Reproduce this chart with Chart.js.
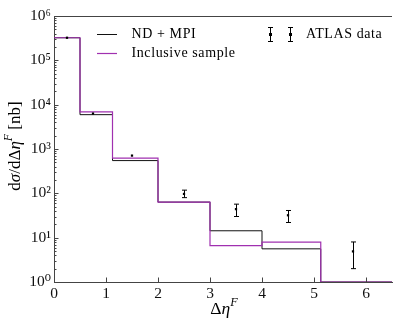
<!DOCTYPE html>
<html>
<head>
<meta charset="utf-8">
<script src="https://cdn.jsdelivr.net/npm/chart.js@4.4.1/dist/chart.umd.min.js"></script>
<style>
  html, body { margin: 0; padding: 0; background: #fff; }
  #wrap { width: 396px; height: 321px; }
</style>
</head>
<body>
<div id="wrap"><canvas id="chart" width="396" height="321"></canvas></div>
<script>
// histogram bins (left edges + last right edge) and bin contents
const binEdges = [0, 0.5, 1.125, 2, 3, 4, 5.13, 6.5];
const ndMpi = [3.23e5, 5950, 548, 63.4, 14.3, 5.6, 1];
const inclusive = [3.23e5, 6850, 621, 63.4, 6.6, 7.95, 1];

// ATLAS points with error bars
const atlasX = [0.25, 0.75, 1.5, 2.5, 3.5, 4.5, 5.75];
const atlasY = [3.23e5, 6300, 710, 97, 44, 32, 4.9];
const atlasLow = [3.2e5, 6200, 690, 80, 30, 22, 2.0];
const atlasHigh = [3.26e5, 6400, 730, 118, 57, 41, 8.0];

const xTicks = [0, 1, 2, 3, 4, 5, 6];
const yTicks = [1, 10, 100, 1e3, 1e4, 1e5, 1e6];
const yTickLabels = ['10⁰', '10¹', '10²', '10³', '10⁴', '10⁵', '10⁶'];

const SERIF = '"Liberation Serif", "DejaVu Serif", serif';
const AXIS = '#444';

function steps(values) {
    return binEdges.map((x, i) => ({ x: x, y: values[Math.min(i, values.length - 1)] }));
}

// draws text pieces in a row centred on cx; pieces: {t, italic, sup}
function mathText(ctx, pieces, size, cx, cy) {
    const font = p => (p.italic ? 'italic ' : '') + (p.sup ? size * 0.7 : size) + 'px ' + SERIF;
    let total = 0;
    pieces.forEach(p => { ctx.font = font(p); p.w = ctx.measureText(p.t).width; total += p.w; });
    let x = cx - total / 2;
    ctx.textBaseline = 'alphabetic';
    ctx.textAlign = 'left';
    pieces.forEach(p => {
        ctx.font = font(p);
        ctx.fillText(p.t, x, cy + size * 0.33 - (p.sup ? size * 0.42 : 0));
        x += p.w;
    });
}

const decor = {
    id: 'decor',
    afterDatasetsDraw(chart) {
        const { ctx, chartArea: a, scales: { x, y } } = chart;
        ctx.save();

        // inward ticks + top spine
        ctx.strokeStyle = AXIS;
        ctx.lineWidth = 1;
        ctx.beginPath();
        xTicks.forEach(v => {
            const px = Math.round(x.getPixelForValue(v)) + 0.5;
            ctx.moveTo(px, a.bottom);
            ctx.lineTo(px, a.bottom - 4.5);
        });
        for (let k = 0; k < 6; k++) {
            for (let m = 1; m < 10; m++) {
                const py = Math.round(y.getPixelForValue(m * Math.pow(10, k))) + 0.5;
                ctx.moveTo(a.left, py);
                ctx.lineTo(a.left + (m === 1 ? 4.5 : 2.5), py);
            }
        }
        ctx.moveTo(a.left, Math.round(a.top) + 0.5);
        ctx.lineTo(a.right, Math.round(a.top) + 0.5);
        ctx.stroke();

        // error bars (caps only where the bar is visible beyond the marker)
        ctx.strokeStyle = '#000';
        ctx.beginPath();
        chart.data.datasets[2].data.forEach(p => {
            const px = Math.round(x.getPixelForValue(p.x)) + 0.5;
            const y0 = y.getPixelForValue(p.yMin), y1 = y.getPixelForValue(p.yMax);
            if (y0 - y1 < 4) return;
            ctx.moveTo(px, y0); ctx.lineTo(px, y1);
            ctx.moveTo(px - 2.5, y0); ctx.lineTo(px + 2.5, y0);
            ctx.moveTo(px - 2.5, y1); ctx.lineTo(px + 2.5, y1);
        });
        ctx.stroke();

        // legend
        const ds = chart.data.datasets;
        ctx.font = '14px ' + SERIF;
        ctx.letterSpacing = '0.6px';
        ctx.fillStyle = '#000';
        ctx.textBaseline = 'middle';
        [[ds[0], 34.5], [ds[1], 53.5]].forEach(([d, ly]) => {
            ctx.strokeStyle = d.borderColor;
            ctx.lineWidth = d.borderWidth;
            ctx.beginPath();
            ctx.moveTo(97, ly); ctx.lineTo(117, ly);
            ctx.stroke();
            ctx.fillText(d.label, 131.5, ly);
        });
        ctx.strokeStyle = '#000';
        ctx.lineWidth = 1;
        [270.5, 290.5].forEach(mx => {
            ctx.beginPath();
            ctx.moveTo(mx, 27.5); ctx.lineTo(mx, 41.5);
            ctx.moveTo(mx - 2.5, 27.5); ctx.lineTo(mx + 2.5, 27.5);
            ctx.moveTo(mx - 2.5, 41.5); ctx.lineTo(mx + 2.5, 41.5);
            ctx.stroke();
            ctx.fillStyle = '#000';
            ctx.fillRect(mx - 1.5, 33, 3, 3);
        });
        ctx.fillText(ds[2].label, 306, 34.5);
        ctx.letterSpacing = '0px';

        // axis titles
        ctx.fillStyle = '#000';
        mathText(ctx, [{ t: 'Δ' }, { t: 'η', italic: true }, { t: 'F', italic: true, sup: true }],
            17.5, (a.left + a.right) / 2 + 1, 308);
        ctx.save();
        ctx.translate(14, (a.top + a.bottom) / 2 - 3);
        ctx.rotate(-Math.PI / 2);
        mathText(ctx, [{ t: 'd' }, { t: 'σ', italic: true }, { t: '/d' }, { t: 'Δ' }, { t: 'η', italic: true },
            { t: 'F', italic: true, sup: true }, { t: ' [nb]' }], 17, 0, 0);
        ctx.restore();

        ctx.restore();
    }
};

new Chart(document.getElementById('chart'), {
    type: 'line',
    data: {
        datasets: [
            {
                label: 'ND + MPI',
                data: steps(ndMpi),
                borderColor: '#111',
                borderWidth: 1,
                stepped: 'before',
                pointRadius: 0,
                fill: false,
                order: 3
            },
            {
                label: 'Inclusive sample',
                data: steps(inclusive),
                borderColor: '#a030b0',
                borderWidth: 1.2,
                stepped: 'before',
                pointRadius: 0,
                fill: false,
                order: 2
            },
            {
                type: 'scatter',
                label: 'ATLAS data',
                data: atlasX.map((x, i) => ({ x: x, y: atlasY[i], yMin: atlasLow[i], yMax: atlasHigh[i] })),
                pointStyle: 'rect',
                pointRadius: 1.6,
                backgroundColor: '#000',
                borderWidth: 0,
                order: 1
            }
        ]
    },
    options: {
        responsive: false,
        animation: false,
        layout: { padding: { top: 16, right: 0, left: 0, bottom: 0 } },
        plugins: { legend: { display: false }, tooltip: { enabled: false } },
        scales: {
            x: {
                type: 'linear',
                min: 0,
                max: 6.5,
                afterBuildTicks: s => { s.ticks = xTicks.map(v => ({ value: v })); },
                afterFit: s => { s.height = 39; },
                grid: { display: false, drawTicks: false },
                border: { display: true, color: AXIS, width: 1 },
                ticks: { font: { family: SERIF, size: 15.5 }, color: '#111', padding: 3, maxRotation: 0 }
            },
            y: {
                type: 'logarithmic',
                min: 1,
                max: 1e6,
                afterBuildTicks: s => { s.ticks = yTicks.map(v => ({ value: v })); },
                afterFit: s => { s.width = 54; },
                grid: { display: false, drawTicks: false },
                border: { display: true, color: AXIS, width: 1 },
                ticks: {
                    font: { family: SERIF, size: 15.5 },
                    color: '#111',
                    padding: 3,
                    callback: (v) => yTickLabels[yTicks.indexOf(v)]
                }
            }
        }
    },
    plugins: [decor]
});
</script>
</body>
</html>
